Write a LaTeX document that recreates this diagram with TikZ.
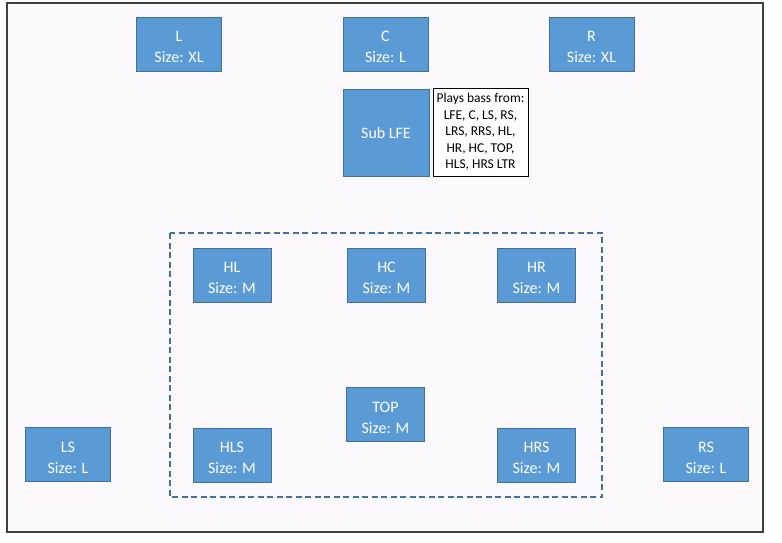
\documentclass[tikz,border=0pt]{standalone}
\usepackage{fontspec}
\setmainfont{Carlito}
\usetikzlibrary{positioning}
\definecolor{spkfill}{RGB}{91,155,213}
\definecolor{spkedge}{RGB}{65,113,156}
\definecolor{framegray}{RGB}{64,64,64}
\newcommand{\spktext}[2]{\rule{0pt}{17pt}#1\\Size: #2}

\begin{document}
\begin{tikzpicture}[x=1pt,y=-1pt,
	box/.style={draw=spkedge,fill=spkfill,line width=1pt,text=white,align=center,
		font=\fontsize{16}{21}\selectfont,inner sep=0pt},
	spk/.style={box,minimum height=54pt},
	spkL/.style={spk,minimum width=85pt},
	spkM/.style={spk,minimum width=78pt},
	note/.style={draw=black,fill=white,line width=0.8pt,align=center,inner sep=0pt,
		font=\fontsize{13.5}{16.5}\selectfont,minimum width=95pt,minimum height=88pt}
	]

	\useasboundingbox (0,0) rectangle (782,542);
	\draw[framegray,line width=1.5pt,fill={rgb,255:red,251;green,249;blue,251}] (7,3) rectangle (763,532);

	% front row
	\node[spkL] (l) at (179,44) {\spktext{L}{XL}};
	\node[spkL] (c) at (385.5,44) {\spktext{C}{L}};
	\node[spkL] (r) at (591.5,44) {\spktext{R}{XL}};

	% sub
	\node[box,minimum width=86pt,minimum height=87pt] (sub) at (386,132.5) {Sub LFE};
	\node[note] (bass) at (480.5,132) {Plays bass from:\\LFE, C, LS, RS,\\LRS, RRS, HL,\\HR, HC, TOP,\\HLS, HRS LTR};

	% height group
	\draw[spkedge,line width=1.2pt,dash pattern=on 6pt off 3.5pt] (170,233) rectangle (602,497);

	\node[spkM] (hl) at (232,275) {\spktext{HL}{M}};
	\node[spkM] (hc) at (386.5,275) {\spktext{HC}{M}};
	\node[spkM] (hr) at (536.5,275) {\spktext{HR}{M}};
	\node[spkM] (top) at (385.5,414.5) {\spktext{TOP}{M}};
	\node[spkM] (hls) at (232,455) {\spktext{HLS}{M}};
	\node[spkM] (hrs) at (536.5,455) {\spktext{HRS}{M}};

	% surrounds
	\node[spkL] (ls) at (68,454.5) {\spktext{LS}{L}};
	\node[spkL] (rs) at (706,454.5) {\spktext{RS}{L}};

\end{tikzpicture}
\end{document}
